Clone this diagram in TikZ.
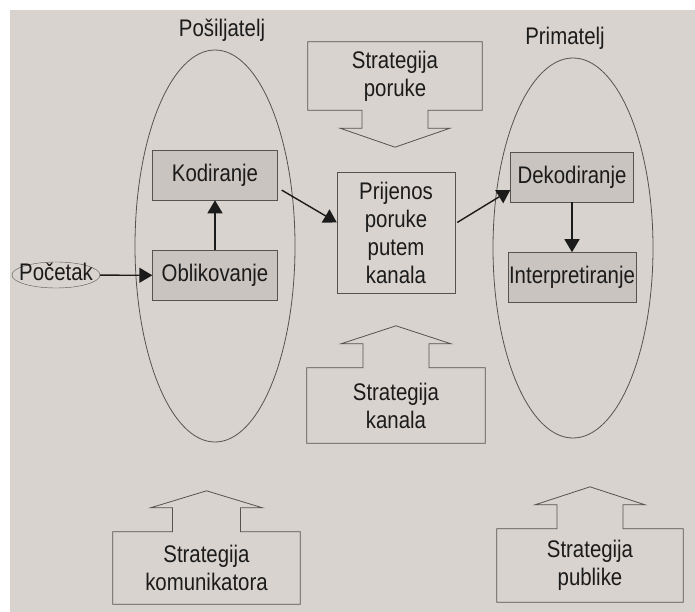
\documentclass[tikz,border=0pt]{standalone}
\usepackage{fontspec}
\newfontfamily\condfont[FakeStretch=0.85]{Liberation Sans}
\usetikzlibrary{positioning, shapes, calc, arrows.meta}
\definecolor{page}{RGB}{216,211,206}
\definecolor{boxfill}{RGB}{201,196,191}
\definecolor{ink}{RGB}{28,27,27}
\definecolor{linegray}{RGB}{85,82,80}

\begin{document}
\begin{tikzpicture}[
		x=1pt, y=-1pt,
		every node/.style={font=\condfont\fontsize{24pt}{28pt}\selectfont, text=ink},
		group/.style={draw=linegray, ellipse, minimum width=160pt, line width=0.8pt},
		proc/.style={draw=linegray, fill=boxfill, minimum width=125pt, minimum height=50pt, inner sep=1pt},
		channel/.style={draw=linegray, align=center, minimum width=118pt, minimum height=121pt},
		strat/.style={align=center, inner sep=0pt},
		start/.style={draw=linegray, ellipse, minimum width=88pt, minimum height=26pt, inner xsep=-7pt, inner ysep=-2pt, text height=14pt, text depth=3pt},
		outline/.style={draw=linegray, line width=0.8pt},
		arrow/.style={-{Triangle[length=13pt, width=15pt]}, draw=ink, line width=1.4pt}
		]
		\useasboundingbox (0,0) rectangle (695,612);
		\fill[page] (10,10) rectangle (695,612);
		
		% Sender and receiver
		\node[group, minimum height=392pt, label={[xshift=7pt, label distance=5pt]above:Pošiljatelj}] (sender) at (215,246) {};
		\node[group, minimum height=380pt, label={[xshift=-8pt, label distance=5pt]above:Primatelj}] (receiver) at (573,248) {};
		
		\node[proc] (oblik) at (215,275.5) {Oblikovanje};
		\node[proc, above=50pt of oblik] (kod) {Kodiranje};
		\node[start] (pocetak) at (56,275) {Početak};
		
		\node[channel] (prijenos) at (396,232.5) {Prijenos\\poruke\\putem\\kanala};
		
		\node[proc, minimum width=123pt] (dekod) at (572,177) {Dekodiranje};
		\node[proc, minimum width=123pt, below=50pt of dekod] (interp) {Interpretiranje};
		
		% Strategies
		\node[strat, minimum width=174pt, minimum height=68pt] (sporuke) at (395,76) {Strategija\\poruke};
		\node[strat, minimum width=178pt, minimum height=75pt] (skanala) at (396,405.5) {Strategija\\kanala};
		\node[strat, minimum width=187pt, minimum height=72pt] (skom) at (206.5,568) {Strategija\\komunikatora};
		\node[strat, minimum width=186pt, minimum height=73pt] (spub) at (590,565.5) {Strategija\\publike};
		
		\draw[outline] (sporuke.south west) -- (sporuke.north west) -- (sporuke.north east) -- (sporuke.south east) -- ($(sporuke.south)+(33,0)$) -- ++(0,18) -- ++(22,0) -- ++(-55,19) -- ++(-55,-19) -- ++(22,0) -- ++(0,-18) -- cycle;
		\draw[outline] (skanala.north west) -- ($(skanala.north)+(-33,0)$) -- ++(0,-24) -- ++(-22,0) -- ++(55,-18) -- ++(55,18) -- ++(-22,0) -- ++(0,24) -- (skanala.north east) -- (skanala.south east) -- (skanala.south west) -- cycle;
		\draw[outline] (skom.north west) -- ($(skom.north)+(-34,0)$) -- ++(0,-24) -- ++(-22,0) -- ++(56,-17) -- ++(56,17) -- ++(-22,0) -- ++(0,24) -- (skom.north east) -- (skom.south east) -- (skom.south west) -- cycle;
		\draw[outline] (spub.north west) -- ($(spub.north)+(-33,0)$) -- ++(0,-24) -- ++(-22,0) -- ++(55,-18) -- ++(55,18) -- ++(-22,0) -- ++(0,24) -- (spub.north east) -- (spub.south east) -- (spub.south west) -- cycle;
		
		\draw[arrow] (pocetak) -- (oblik);
		\draw[arrow] (oblik) -- (kod);
		\draw[arrow] ([xshift=4pt, yshift=-15pt]kod.east) -- ([yshift=10pt]prijenos.west);
		\draw[arrow] ([xshift=2pt, yshift=10pt]prijenos.east) -- ([yshift=-13pt]dekod.west);
		\draw[arrow] (dekod) -- (interp);
		
	\end{tikzpicture}
\end{document}
